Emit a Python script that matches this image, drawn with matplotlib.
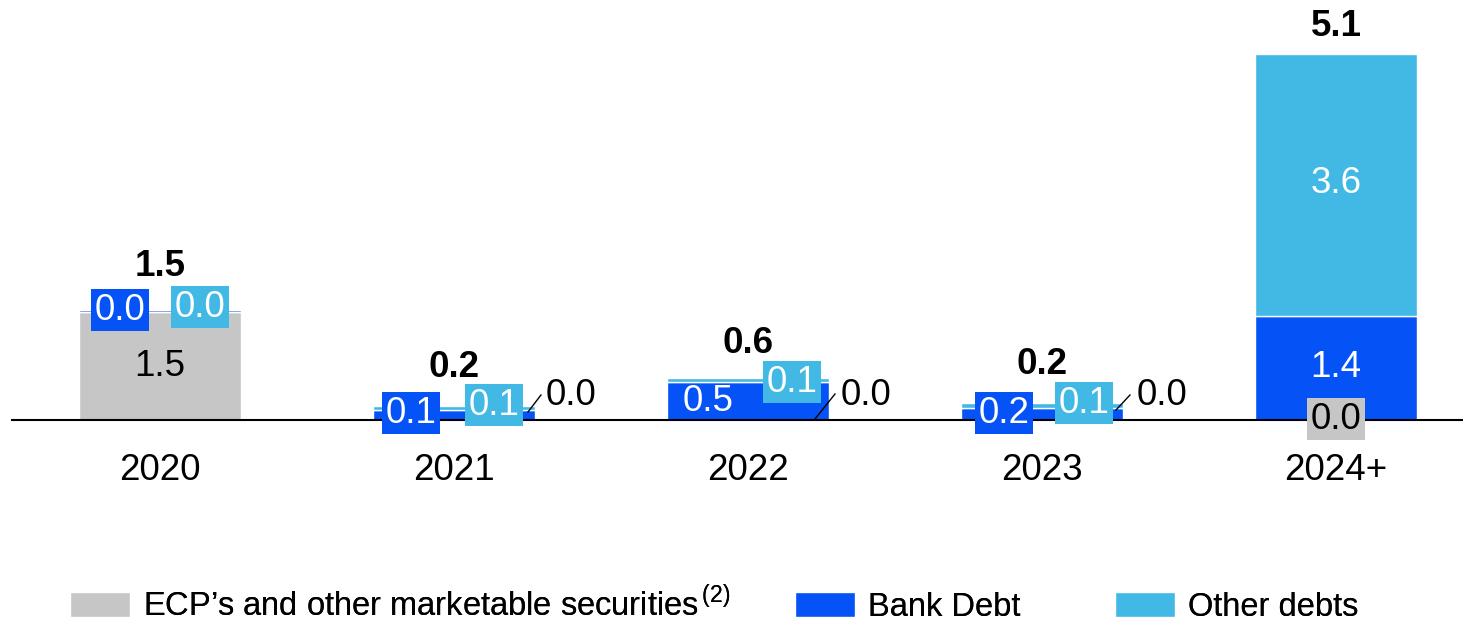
import matplotlib
matplotlib.use("Agg")
import matplotlib.pyplot as plt
import numpy as np

plt.rcParams['font.family'] = ['Liberation Sans', 'DejaVu Sans']
plt.rcParams['mathtext.fontset'] = 'custom'
plt.rcParams['mathtext.rm'] = 'Liberation Sans'

# ---- data ----
categories = ["2020", "2021", "2022", "2023", "2024+"]
ecp = [1.50, 0.00, 0.00, 0.00, 0.00]
bank_debt = [0.02, 0.14, 0.52, 0.17, 1.44]
other_debts = [0.02, 0.06, 0.06, 0.06, 3.63]
series_names = ["ECP\u2019s and other marketable securities$^{\\mathrm{\\,(2)}}$", "Bank Debt", "Other debts"]

# ---- style ----
C_GRAY = "#C6C6C6"
C_BANK = "#0552F6"
C_OTHER = "#41B9E4"
FS = 26.5

fig = plt.figure(figsize=(14.63, 6.24), dpi=100)
ax = fig.add_axes([0, 0, 1, 1])
ax.set_xlim(-0.544, 4.432)
ax.set_ylim(-2.825, 5.817)
ax.axis('off')

x = np.arange(len(categories))
w = 0.554
b1 = ax.bar(x, ecp, w, color=C_GRAY, edgecolor='white', linewidth=1, zorder=2)
b2 = ax.bar(x, bank_debt, w, bottom=ecp, color=C_BANK, edgecolor='white', linewidth=1, zorder=2)
bottom3 = np.array(ecp) + np.array(bank_debt)
b3 = ax.bar(x, other_debts, w, bottom=bottom3, color=C_OTHER, edgecolor='white', linewidth=1, zorder=2)
totals = bottom3 + np.array(other_debts)

ax.axhline(0, xmin=12 / 1463, xmax=1, color='black', lw=1.5, zorder=3)

# label offsets in pixels relative to (bar center, baseline): (dx, dy, boxed)
ecp_off = [(0, 54, False), (117, 25, False), (118, 25, False), (120, 25, False), (0, 1, True)]
bank_off = [(-40, 110, True), (-43, 7, True), (-40, 19, False), (-38, 7, True), (0, 53, False)]
other_off = [(40, 113, True), (40, 15, True), (44, 38, True), (42, 17, True), (0, 237, False)]
leaders = [None, ((74, 8), (87, 25)), ((67, 1), (87, 26)), ((74, 10), (88, 25)), None]
total_dy = [42, 38, 35, 39, 27]

def lab(i, val, off, boxcolor, txtcolor):
    dx, dy, boxed = off
    kw = {}
    if boxed:
        kw['bbox'] = dict(boxstyle='square,pad=0.1', fc=boxcolor, ec='none')
    ax.annotate(f"{val:.1f}", xy=(i, 0), xytext=(dx, dy), textcoords='offset pixels',
                ha='center', va='center', fontsize=FS, color=txtcolor, zorder=5, **kw)

inv = ax.transData.inverted()
for i in range(len(categories)):
    lab(i, ecp[i], ecp_off[i], C_GRAY, 'black')
    lab(i, bank_debt[i], bank_off[i], C_BANK, 'white')
    lab(i, other_debts[i], other_off[i], C_OTHER, 'white')
    if leaders[i] is not None:
        (x0, y0), (x1, y1) = leaders[i]
        p0 = ax.transData.transform((i, 0))
        a = inv.transform((p0[0] + x0, p0[1] + y0))
        b = inv.transform((p0[0] + x1, p0[1] + y1))
        ax.plot([a[0], b[0]], [a[1], b[1]], color='black', lw=1, zorder=4)
    ax.annotate(f"{totals[i]:.1f}", xy=(i, totals[i]), xytext=(0, total_dy[i]),
                textcoords='offset pixels', ha='center', va='center',
                fontsize=FS, fontweight='bold', color='black', zorder=5)
    ax.annotate(categories[i], xy=(i, 0), xytext=(0, -50), textcoords='offset pixels',
                ha='center', va='center', fontsize=FS, color='black')

# legend entries placed individually
legend_x = [0.0478, 0.5434, 0.7621]
for h, name, lx in zip([b1, b2, b3], series_names, legend_x):
    lg = fig.legend([h], [name], loc='lower left', bbox_to_anchor=(lx, 0.002),
                    frameon=False, fontsize=23.5, handlelength=1.85, handleheight=0.8,
                    handletextpad=0.4, borderpad=0, borderaxespad=0)
    fig.add_artist(lg)

fig.savefig("out.png", dpi=100)
